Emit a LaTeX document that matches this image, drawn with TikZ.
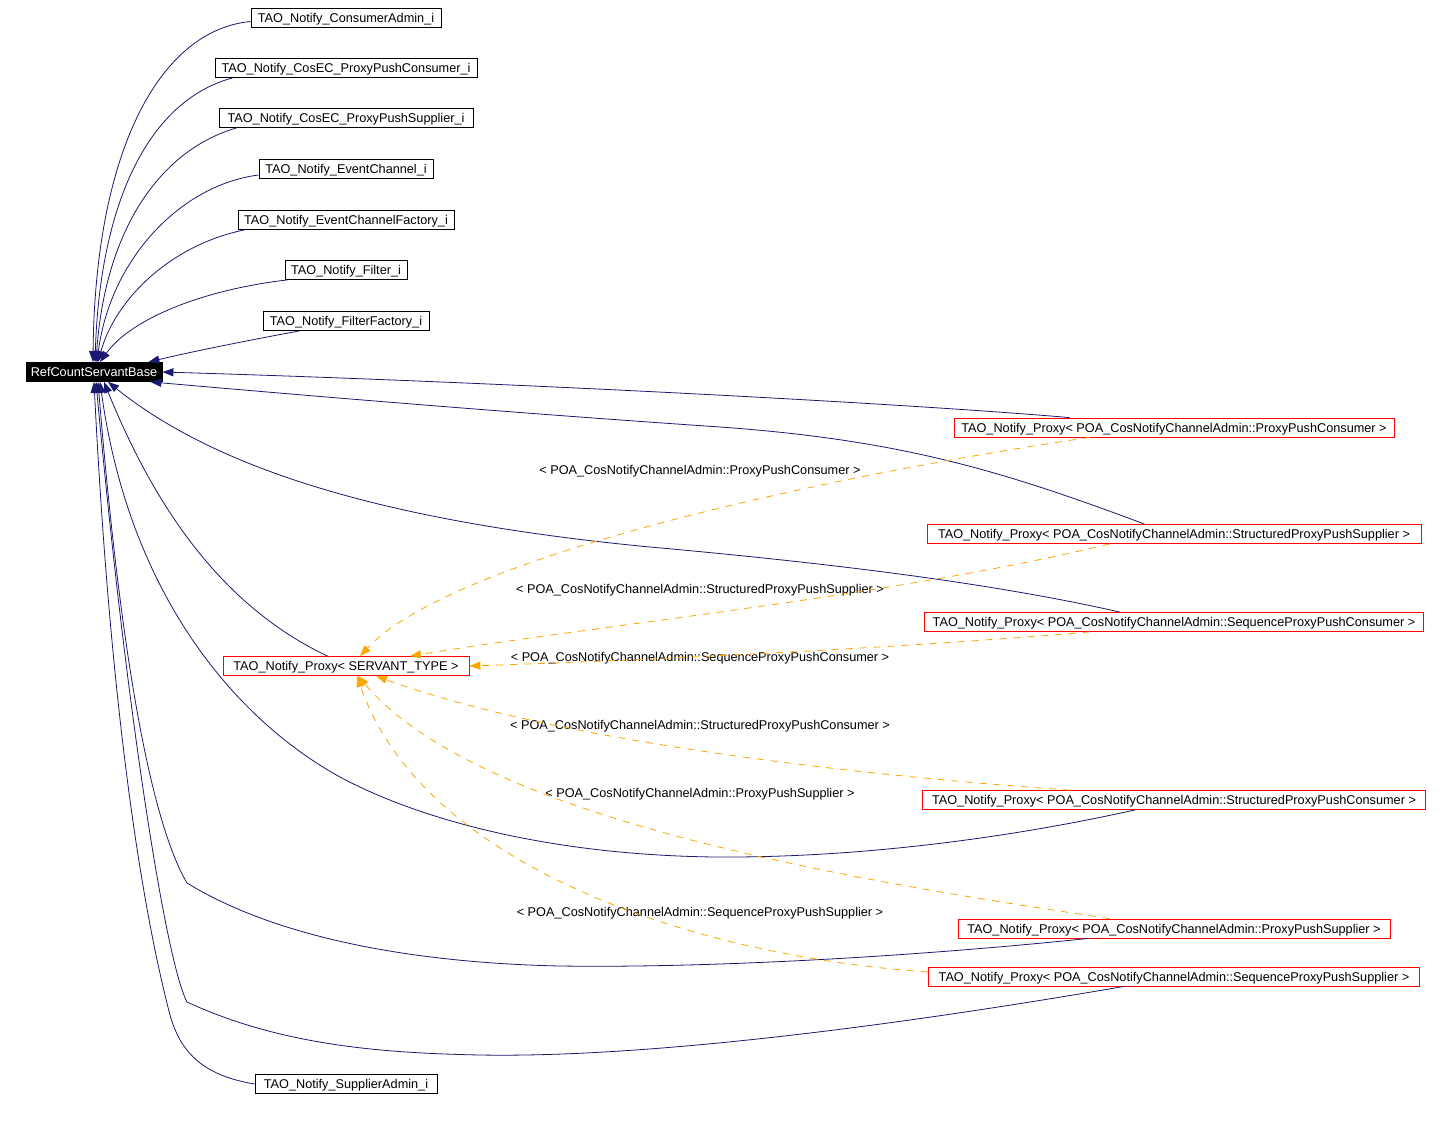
\documentclass[tikz,border=0pt]{standalone}
\usepackage{fontspec}
\setmainfont{Liberation Sans}
\usetikzlibrary{arrows.meta}
\definecolor{edgeblue}{HTML}{191970}
\definecolor{edgeorange}{HTML}{FFA500}
\newcommand{\dgfont}{\fontsize{12.7}{14}\selectfont}
\begin{document}
\begin{tikzpicture}[x=1pt,y=-1pt,
  box/.style={draw=black, line width=0.8pt, inner sep=0pt, minimum height=19pt, text depth=0pt, font=\dgfont},
  redbox/.style={box, draw=red},
  inh/.style={draw=edgeblue, line width=0.8pt, -{Triangle[length=11pt,width=8pt]}},
  tmpl/.style={draw=edgeorange, line width=0.8pt, dash pattern=on 7pt off 7pt, -{Triangle[length=11pt,width=8pt]}},
  elabel/.style={inner sep=0pt, text depth=0pt, font=\dgfont}]
\useasboundingbox (0,0) rectangle (1449,1121);

% nodes
\node[box, minimum width=190pt] (ca) at (346,17.5) {TAO\_Notify\_ConsumerAdmin\_i};
\node[box, minimum width=262pt] (cppc) at (346,68) {TAO\_Notify\_CosEC\_ProxyPushConsumer\_i};
\node[box, minimum width=254pt] (cpps) at (346,118) {TAO\_Notify\_CosEC\_ProxyPushSupplier\_i};
\node[box, minimum width=174pt] (ec) at (346,169) {TAO\_Notify\_EventChannel\_i};
\node[box, minimum width=216pt] (ecf) at (346,220) {TAO\_Notify\_EventChannelFactory\_i};
\node[box, minimum width=122pt] (fi) at (346,270) {TAO\_Notify\_Filter\_i};
\node[box, minimum width=166pt] (ff) at (346,321) {TAO\_Notify\_FilterFactory\_i};
\node[box, fill=black, text=white, minimum width=136pt] (rcsb) at (94,372) {RefCountServantBase};
\node[redbox, minimum width=440pt] (ppc) at (1174,427.5) {TAO\_Notify\_Proxy< POA\_CosNotifyChannelAdmin::ProxyPushConsumer >};
\node[redbox, minimum width=494pt] (spps) at (1174,534) {TAO\_Notify\_Proxy< POA\_CosNotifyChannelAdmin::StructuredProxyPushSupplier >};
\node[redbox, minimum width=499pt] (seqppc) at (1174,622) {TAO\_Notify\_Proxy< POA\_CosNotifyChannelAdmin::SequenceProxyPushConsumer >};
\node[redbox, minimum width=246pt] (st) at (346,666) {TAO\_Notify\_Proxy< SERVANT\_TYPE >};
\node[redbox, minimum width=503pt] (sppc) at (1174,800) {TAO\_Notify\_Proxy< POA\_CosNotifyChannelAdmin::StructuredProxyPushConsumer >};
\node[redbox, minimum width=432pt] (pps) at (1174,928.5) {TAO\_Notify\_Proxy< POA\_CosNotifyChannelAdmin::ProxyPushSupplier >};
\node[redbox, minimum width=491pt] (seqpps) at (1174,976.5) {TAO\_Notify\_Proxy< POA\_CosNotifyChannelAdmin::SequenceProxyPushSupplier >};
\node[box, minimum width=182pt] (sa) at (346,1084) {TAO\_Notify\_SupplierAdmin\_i};

% edge labels
\node[elabel] (l1) at (700,470) {< POA\_CosNotifyChannelAdmin::ProxyPushConsumer >};
\node[elabel] (l2) at (700,589) {< POA\_CosNotifyChannelAdmin::StructuredProxyPushSupplier >};
\node[elabel] (l3) at (700,657) {< POA\_CosNotifyChannelAdmin::SequenceProxyPushConsumer >};
\node[elabel] (l4) at (700,725) {< POA\_CosNotifyChannelAdmin::StructuredProxyPushConsumer >};
\node[elabel] (l5) at (700,793) {< POA\_CosNotifyChannelAdmin::ProxyPushSupplier >};
\node[elabel] (l6) at (700,912) {< POA\_CosNotifyChannelAdmin::SequenceProxyPushSupplier >};

% inheritance edges (to RefCountServantBase)
\draw[inh] ([yshift=-4pt]ca.west) .. controls (160,30) and (95,150) .. ([xshift=-1pt]rcsb.north);
\draw[inh] ([xshift=18pt]cppc.south west) .. controls (150,100) and (100,200) .. ([xshift=1pt]rcsb.north);
\draw[inh] ([xshift=18pt]cpps.south west) .. controls (160,150) and (105,230) .. ([xshift=2pt]rcsb.north);
\draw[inh] ([yshift=-6pt]ec.west) .. controls (180,185) and (110,260) .. ([xshift=3pt]rcsb.north);
\draw[inh] ([xshift=7pt]ecf.south west) .. controls (170,245) and (115,300) .. ([xshift=4pt]rcsb.north);
\draw[inh] ([xshift=3pt]fi.south west) .. controls (200,290) and (130,320) .. ([xshift=6pt]rcsb.north);
\draw[inh] ([xshift=37pt]ff.south west) .. controls (250,340) and (190,352) .. ([xshift=-14pt]rcsb.north east);
\draw[inh] ([xshift=116pt]ppc.north west) .. controls (900,403) and (500,382) .. (rcsb.east);
\draw[inh] ([xshift=218pt]spps.north west) .. controls (1000,470) and (900,440) .. (720,427)
   .. controls (500,412) and (300,395) .. ([xshift=-12pt]rcsb.south east);
\draw[inh] ([xshift=196pt]seqppc.north west) .. controls (1000,585) and (850,565) .. (650,547)
   .. controls (420,525) and (230,480) .. ([xshift=14pt]rcsb.south);
\draw[inh] ([xshift=105pt]st.north west) .. controls (230,610) and (160,520) .. ([xshift=10pt]rcsb.south);
\draw[inh] ([xshift=213pt]sppc.south west) .. controls (1000,840) and (850,858) .. (715,857)
   .. controls (550,855) and (420,820) .. (340,777)
   .. controls (240,722) and (130,600) .. ([xshift=6pt]rcsb.south);
\draw[inh] ([xshift=131pt]pps.south west) .. controls (900,958) and (700,968) .. (560,966)
   .. controls (420,963) and (280,940) .. (187,883)
   .. controls (150,820) and (120,650) .. ([xshift=4pt]rcsb.south);
\draw[inh] ([xshift=196pt]seqpps.south west) .. controls (900,1025) and (650,1058) .. (480,1055)
   .. controls (380,1053) and (280,1045) .. (187,1002)
   .. controls (165,960) and (125,700) .. ([xshift=2pt]rcsb.south);
\draw[inh] (sa.west) .. controls (200,1075) and (180,1050) .. (170,1015)
   .. controls (140,900) and (110,700) .. (rcsb.south);

% template instantiation edges (to SERVANT_TYPE)
\draw[tmpl] ([xshift=136pt]ppc.south west) .. controls (800,480) and (450,560) .. ([xshift=14pt]st.north);
\draw[tmpl] ([xshift=183pt]spps.south west) .. controls (900,595) and (600,625) .. ([xshift=64pt]st.north);
\draw[tmpl] ([xshift=166pt]seqppc.south west) .. controls (900,648) and (650,660) .. (st.east);
\draw[tmpl] ([xshift=148pt]sppc.north west) .. controls (850,775) and (550,740) .. ([xshift=30pt]st.south);
\draw[tmpl] ([xshift=152pt]pps.north west) .. controls (850,880) and (480,820) .. ([xshift=12pt]st.south);
\draw[tmpl] ([yshift=4.5pt]seqpps.west) .. controls (680,955) and (420,860) .. ([xshift=11pt]st.south);
\end{tikzpicture}
\end{document}
